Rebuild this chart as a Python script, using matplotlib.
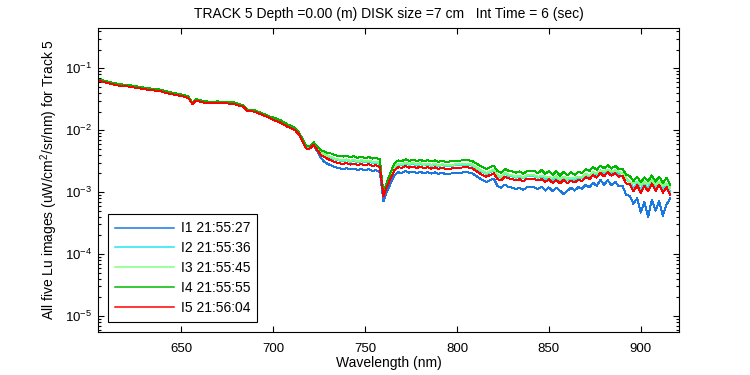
## Import Required Libraries

import numpy as np
import matplotlib
matplotlib.use("Agg")
import matplotlib.pyplot as plt
from matplotlib.ticker import LogLocator, NullFormatter

## Create Data

# wavelength grid (nm), one sample every 2 nm
wavelength = np.arange(606, 917, 2)

# log10 of Lu (uW/cm^2/sr/nm), ten samples per row
i1_log = [
    -1.203, -1.218, -1.232, -1.246, -1.258, -1.272, -1.276, -1.283, -1.288, -1.300,
    -1.309, -1.320, -1.330, -1.338, -1.345, -1.351, -1.358, -1.374, -1.390, -1.403,
    -1.416, -1.427, -1.439, -1.450, -1.476, -1.568, -1.514, -1.529, -1.544, -1.552,
    -1.553, -1.555, -1.551, -1.556, -1.558, -1.560, -1.563, -1.581, -1.600, -1.616,
    -1.690, -1.684, -1.694, -1.721, -1.742, -1.766, -1.797, -1.820, -1.841, -1.864,
    -1.901, -1.933, -1.958, -1.990, -2.054, -2.176, -2.281, -2.290, -2.245, -2.340,
    -2.450, -2.516, -2.549, -2.574, -2.600, -2.615, -2.630, -2.615, -2.635, -2.620,
    -2.645, -2.628, -2.650, -2.630, -2.655, -2.648, -2.672, -3.150, -2.980, -2.855,
    -2.725, -2.680, -2.690, -2.662, -2.685, -2.670, -2.692, -2.672, -2.695, -2.678,
    -2.700, -2.682, -2.705, -2.688, -2.712, -2.700, -2.698, -2.688, -2.686, -2.680,
    -2.682, -2.690, -2.732, -2.772, -2.806, -2.835, -2.810, -2.780, -2.900, -2.930,
    -2.880, -2.915, -2.930, -2.950, -2.932, -2.965, -2.925, -2.920, -2.925, -2.950,
    -2.910, -2.975, -2.925, -2.985, -2.930, -2.975, -3.030, -2.980, -2.930, -2.975,
    -2.920, -2.945, -2.880, -2.925, -2.845, -2.900, -2.800, -2.880, -2.805, -2.890,
    -2.830, -2.905, -2.895, -3.040, -3.060, -3.190, -3.100, -3.330, -3.160, -3.400,
    -3.120, -3.300, -3.140, -3.380, -3.200, -3.100,
]

i2_log = [
    -1.198, -1.212, -1.228, -1.240, -1.253, -1.268, -1.272, -1.279, -1.284, -1.295,
    -1.304, -1.315, -1.325, -1.334, -1.341, -1.347, -1.354, -1.369, -1.386, -1.399,
    -1.412, -1.423, -1.435, -1.446, -1.472, -1.565, -1.510, -1.525, -1.540, -1.548,
    -1.549, -1.551, -1.547, -1.552, -1.554, -1.556, -1.559, -1.577, -1.596, -1.612,
    -1.686, -1.680, -1.690, -1.717, -1.738, -1.762, -1.793, -1.812, -1.833, -1.856,
    -1.893, -1.925, -1.950, -1.982, -2.046, -2.165, -2.270, -2.270, -2.213, -2.295,
    -2.372, -2.402, -2.432, -2.452, -2.475, -2.490, -2.500, -2.486, -2.508, -2.494,
    -2.516, -2.500, -2.520, -2.505, -2.526, -2.522, -2.545, -3.045, -2.865, -2.728,
    -2.598, -2.555, -2.562, -2.538, -2.560, -2.545, -2.566, -2.548, -2.570, -2.552,
    -2.575, -2.558, -2.580, -2.562, -2.585, -2.578, -2.572, -2.562, -2.560, -2.556,
    -2.556, -2.566, -2.605, -2.645, -2.678, -2.705, -2.678, -2.650, -2.740, -2.770,
    -2.703, -2.735, -2.745, -2.768, -2.748, -2.780, -2.740, -2.738, -2.745, -2.768,
    -2.740, -2.790, -2.750, -2.805, -2.760, -2.810, -2.765, -2.812, -2.770, -2.805,
    -2.760, -2.772, -2.715, -2.745, -2.680, -2.720, -2.650, -2.698, -2.640, -2.690,
    -2.648, -2.705, -2.695, -2.805, -2.830, -2.930, -2.855, -2.960, -2.870, -2.935,
    -2.830, -2.925, -2.850, -2.955, -2.880, -3.000,
]

i3_log = [
    -1.192, -1.205, -1.222, -1.236, -1.247, -1.262, -1.267, -1.273, -1.279, -1.290,
    -1.299, -1.310, -1.320, -1.329, -1.335, -1.342, -1.349, -1.364, -1.380, -1.394,
    -1.406, -1.418, -1.429, -1.441, -1.467, -1.560, -1.504, -1.519, -1.534, -1.543,
    -1.544, -1.545, -1.542, -1.547, -1.548, -1.551, -1.553, -1.572, -1.590, -1.607,
    -1.680, -1.674, -1.685, -1.711, -1.733, -1.756, -1.787, -1.805, -1.826, -1.849,
    -1.886, -1.918, -1.943, -1.975, -2.039, -2.158, -2.263, -2.263, -2.206, -2.285,
    -2.360, -2.390, -2.420, -2.440, -2.462, -2.475, -2.485, -2.472, -2.494, -2.480,
    -2.500, -2.486, -2.505, -2.490, -2.512, -2.506, -2.530, -3.035, -2.850, -2.715,
    -2.585, -2.540, -2.548, -2.522, -2.545, -2.530, -2.550, -2.532, -2.556, -2.538,
    -2.560, -2.542, -2.566, -2.548, -2.570, -2.564, -2.558, -2.548, -2.546, -2.542,
    -2.542, -2.550, -2.590, -2.630, -2.662, -2.690, -2.662, -2.635, -2.725, -2.755,
    -2.688, -2.718, -2.730, -2.752, -2.732, -2.765, -2.725, -2.722, -2.730, -2.752,
    -2.738, -2.752, -2.760, -2.770, -2.745, -2.790, -2.748, -2.782, -2.770, -2.772,
    -2.748, -2.752, -2.705, -2.730, -2.676, -2.700, -2.655, -2.662, -2.640, -2.660,
    -2.650, -2.670, -2.700, -2.770, -2.840, -2.860, -2.830, -2.880, -2.840, -2.870,
    -2.810, -2.880, -2.830, -2.900, -2.860, -2.930,
]

i4_log = [
    -1.185, -1.198, -1.214, -1.229, -1.240, -1.256, -1.262, -1.266, -1.272, -1.283,
    -1.292, -1.303, -1.313, -1.322, -1.328, -1.335, -1.342, -1.357, -1.373, -1.387,
    -1.399, -1.411, -1.422, -1.434, -1.460, -1.555, -1.497, -1.512, -1.527, -1.536,
    -1.537, -1.538, -1.535, -1.540, -1.541, -1.544, -1.546, -1.565, -1.583, -1.600,
    -1.674, -1.667, -1.678, -1.704, -1.726, -1.749, -1.780, -1.795, -1.816, -1.839,
    -1.876, -1.908, -1.933, -1.965, -2.029, -2.146, -2.251, -2.251, -2.194, -2.260,
    -2.326, -2.346, -2.369, -2.379, -2.405, -2.420, -2.425, -2.408, -2.436, -2.420,
    -2.448, -2.425, -2.452, -2.432, -2.458, -2.448, -2.470, -3.020, -2.820, -2.672,
    -2.533, -2.488, -2.498, -2.470, -2.494, -2.475, -2.498, -2.478, -2.502, -2.482,
    -2.506, -2.488, -2.512, -2.492, -2.516, -2.505, -2.504, -2.490, -2.490, -2.484,
    -2.488, -2.492, -2.530, -2.565, -2.598, -2.625, -2.598, -2.570, -2.660, -2.690,
    -2.625, -2.655, -2.662, -2.688, -2.666, -2.702, -2.662, -2.660, -2.652, -2.696,
    -2.645, -2.705, -2.660, -2.720, -2.665, -2.735, -2.675, -2.730, -2.680, -2.720,
    -2.670, -2.690, -2.630, -2.660, -2.595, -2.640, -2.570, -2.615, -2.565, -2.620,
    -2.575, -2.630, -2.620, -2.720, -2.740, -2.820, -2.750, -2.840, -2.760, -2.820,
    -2.730, -2.830, -2.750, -2.850, -2.770, -2.890,
]

i5_log = [
    -1.210, -1.225, -1.241, -1.254, -1.267, -1.281, -1.286, -1.292, -1.297, -1.309,
    -1.318, -1.328, -1.339, -1.347, -1.354, -1.360, -1.367, -1.383, -1.399, -1.412,
    -1.425, -1.436, -1.448, -1.459, -1.485, -1.577, -1.523, -1.538, -1.553, -1.561,
    -1.562, -1.564, -1.560, -1.565, -1.567, -1.569, -1.572, -1.590, -1.609, -1.625,
    -1.698, -1.693, -1.703, -1.730, -1.751, -1.775, -1.806, -1.835, -1.856, -1.879,
    -1.916, -1.948, -1.973, -2.005, -2.069, -2.191, -2.296, -2.296, -2.239, -2.320,
    -2.401, -2.436, -2.469, -2.494, -2.520, -2.535, -2.545, -2.530, -2.556, -2.538,
    -2.562, -2.545, -2.568, -2.550, -2.574, -2.566, -2.595, -3.063, -2.901, -2.772,
    -2.643, -2.599, -2.606, -2.580, -2.604, -2.588, -2.610, -2.590, -2.614, -2.596,
    -2.620, -2.600, -2.625, -2.606, -2.630, -2.622, -2.616, -2.606, -2.604, -2.600,
    -2.600, -2.610, -2.651, -2.691, -2.724, -2.751, -2.724, -2.696, -2.788, -2.813,
    -2.748, -2.778, -2.788, -2.812, -2.792, -2.826, -2.785, -2.782, -2.790, -2.812,
    -2.790, -2.835, -2.795, -2.850, -2.805, -2.860, -2.800, -2.855, -2.815, -2.845,
    -2.800, -2.820, -2.760, -2.790, -2.725, -2.765, -2.690, -2.745, -2.680, -2.735,
    -2.690, -2.750, -2.735, -2.860, -2.870, -2.990, -2.890, -3.010, -2.900, -2.990,
    -2.860, -2.980, -2.880, -3.010, -2.920, -3.050,
]

labels = ["I1 21:55:27", "I2 21:55:36", "I3 21:55:45", "I4 21:55:55", "I5 21:56:04"]
colors = ["#1a78e0", "#1ee6f5", "#80ff80", "#00b800", "#ff0000"]
x_ticks = [650, 700, 750, 800, 850, 900]

## Fonts

plt.rcParams["font.family"] = ["Liberation Sans", "DejaVu Sans"]
plt.rcParams["mathtext.fontset"] = "custom"
plt.rcParams["mathtext.rm"] = "Liberation Sans"
plt.rcParams["axes.unicode_minus"] = False
plt.rcParams["axes.linewidth"] = 0.8

## Create Plot

fig = plt.figure(figsize=(7.5, 3.75), dpi=100)
ax = fig.add_axes([0.1307, 0.1155, 0.7747, 0.8099])

for series, color, label in zip([i1_log, i2_log, i3_log, i4_log, i5_log], colors, labels):
    ax.semilogy(wavelength, 10.0 ** np.array(series), color=color, lw=0.7,
                antialiased=False, label=label)

ax.set_xlim(604.7, 920.8)
ax.set_ylim(10 ** -5.254, 10 ** -0.349)
ax.set_xticks(x_ticks)
ax.yaxis.set_major_locator(LogLocator(base=10, numticks=12))
ax.yaxis.set_minor_locator(LogLocator(base=10, subs=np.arange(2, 10), numticks=12))
ax.yaxis.set_minor_formatter(NullFormatter())

ax.tick_params(which="both", direction="in", top=True, right=True, labelsize=9.5)
ax.tick_params(which="major", length=4, width=0.8)
ax.tick_params(which="minor", length=2, width=0.8)
ax.tick_params(axis="x", pad=8)
ax.tick_params(axis="y", pad=4)

## Labels

ax.set_title("TRACK 5 Depth =0.00 (m) DISK size =7 cm   Int Time = 6 (sec)",
             fontsize=10, pad=7)
ax.set_xlabel("Wavelength (nm)", fontsize=10, labelpad=1)
ax.set_ylabel("All five Lu images (uW/cm$^2$/sr/nm) for Track 5", fontsize=10, labelpad=4)

## Legend

leg = ax.legend(loc="lower left", bbox_to_anchor=(0.0177, 0.033), borderaxespad=0,
                fontsize=10, handlelength=4.2, handletextpad=0.5,
                labelspacing=0.42, borderpad=0.5, fancybox=False,
                framealpha=1, edgecolor="black")
leg.get_frame().set_linewidth(0.8)
for line in leg.get_lines():
    line.set_antialiased(True)
    line.set_linewidth(1.1)

## Save Graph

fig.savefig("out.png", dpi=100)
